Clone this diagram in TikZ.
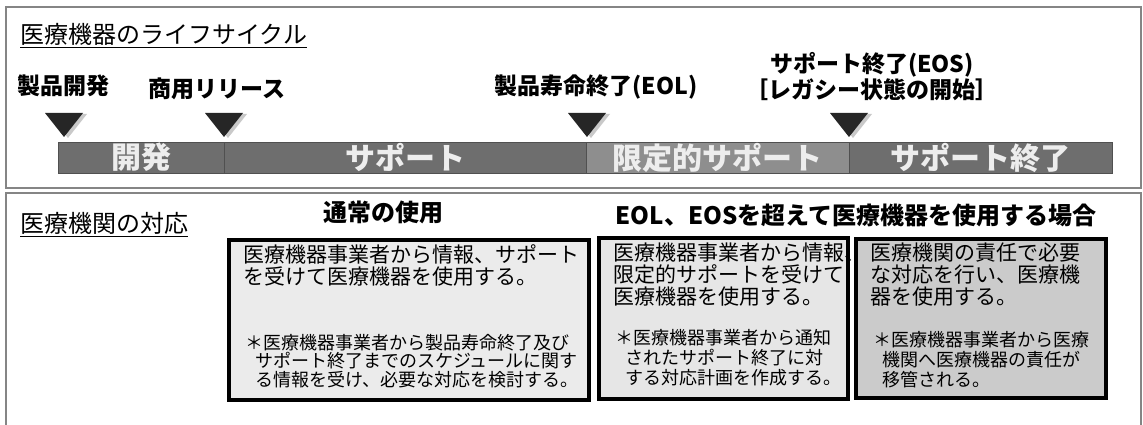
\documentclass[tikz,border=0pt]{standalone}
\usepackage{fontspec}
\setmainfont{Noto Sans CJK JP}
\definecolor{panelgray}{HTML}{858585}
\definecolor{phasedark}{HTML}{6E6E6E}
\definecolor{phaselight}{HTML}{8E8E8E}
\definecolor{phaseline}{HTML}{505050}
\definecolor{phasetext}{HTML}{EDEDED}
\definecolor{fillA}{HTML}{EBEBEB}
\definecolor{fillB}{HTML}{E6E6E6}
\definecolor{fillC}{HTML}{CBCBCB}
\begin{document}
\begin{tikzpicture}[x=1pt,y=-1pt,
  panel/.style={draw=panelgray,line width=2pt},
  head/.style={inner sep=0pt,font=\fontsize{24}{24}\selectfont},
  lbl/.style={inner sep=0pt,font=\fontsize{23}{26}\selectfont\bfseries},
  phase/.style={draw=phaseline,fill=phasedark,text=phasetext,minimum height=31pt,inner sep=0pt,font=\fontsize{30}{30}\selectfont\bfseries},
  usebox/.style={draw=black,line width=3.5pt,inner sep=0pt},
  bodytext/.style={inner sep=0pt,anchor=north west,align=left,font=\fontsize{21}{22}\selectfont},
  notetext/.style={inner sep=0pt,anchor=north west,align=left,font=\fontsize{18}{20}\selectfont}]
\useasboundingbox (0,0) rectangle (1143,425);
\draw[panel] (6,7) rectangle (1141,188);
\draw[panel] (6,425) -- (6,193) -- (1141,193) -- (1141,425);

% life cycle
\node[head,anchor=west] (lifecycle) at (20,34) {医療機器のライフサイクル};
\draw[line width=1pt] ([yshift=-2pt]lifecycle.south west) -- ([yshift=-2pt]lifecycle.south east);

\node[lbl] (lbl-dev) at (63,86) {製品開発};
\node[lbl] (lbl-rel) at (217,89) {商用リリース};
\node[lbl] (lbl-eol) at (596,87) {製品寿命終了(EOL)};
\node[lbl,align=center] (lbl-eos) at (872,77) {サポート終了(EOS)\\［レガシー状態の開始］};

\coordinate (M1) at (64,137);
\coordinate (M2) at (224,137);
\coordinate (M3) at (587,137);
\coordinate (M4) at (849,137);
\fill[gray!60,opacity=.7] ([shift={(4,1)}]M1) -- ++(-19,-24) -- ++(38,0) -- cycle;
\fill[gray!60,opacity=.7] ([shift={(4,1)}]M2) -- ++(-19,-24) -- ++(38,0) -- cycle;
\fill[gray!60,opacity=.7] ([shift={(4,1)}]M3) -- ++(-19,-24) -- ++(38,0) -- cycle;
\fill[gray!60,opacity=.7] ([shift={(4,1)}]M4) -- ++(-19,-24) -- ++(38,0) -- cycle;
\fill[black!85] (M1) -- ++(-19,-24) -- ++(38,0) -- cycle;
\fill[black!85] (M2) -- ++(-19,-24) -- ++(38,0) -- cycle;
\fill[black!85] (M3) -- ++(-19,-24) -- ++(38,0) -- cycle;
\fill[black!85] (M4) -- ++(-19,-24) -- ++(38,0) -- cycle;

\node[phase,minimum width=166pt] (dev) at (141,157.5) {開発};
\node[phase,minimum width=362pt] (support) at (405,157.5) {サポート};
\node[phase,fill=phaselight,minimum width=263pt] (limited) at (717.5,157.5) {限定的サポート};
\node[phase,minimum width=263pt] (ended) at (980.5,157.5) {サポート終了};

% response of medical institutions
\node[head,anchor=west] (response) at (20,223) {医療機関の対応};
\draw[line width=1pt] ([yshift=-2pt]response.south west) -- ([yshift=-2pt]response.south east);
\node[head,font=\fontsize{24}{24}\selectfont\bfseries] (normaluse) at (383,212) {通常の使用};
\node[head,font=\fontsize{24}{24}\selectfont\bfseries] (beyonduse) at (856,215) {EOL、EOSを超えて医療機器を使用する場合};

\node[usebox,fill=fillA,minimum width=360pt,minimum height=160pt] (boxA) at (409,320) {};
\node[usebox,fill=fillB,minimum width=249pt,minimum height=161pt] (boxB) at (723.5,318.5) {};
\node[usebox,fill=fillC,minimum width=250pt,minimum height=159pt] (boxC) at (981,318.5) {};

\node[bodytext] (textA) at (243,244.3) {医療機器事業者から情報、サポート\\を受けて医療機器を使用する。};
\node[notetext,font=\fontsize{18}{18.5}\selectfont] (noteA) at (245,334) {＊医療機器事業者から製品寿命終了及び\\\hspace*{10pt}サポート終了までのスケジュールに関す\\\hspace*{10pt}る情報を受け、必要な対応を検討する。};
\node[bodytext] (textB) at (613,242.3) {医療機器事業者から情報、\\限定的サポートを受けて\\医療機器を使用する。};
\node[notetext] (noteB) at (615,329) {＊医療機器事業者から通知\\\hspace*{10pt}されたサポート終了に対\\\hspace*{10pt}する対応計画を作成する。};
\node[bodytext] (textC) at (870,242.3) {医療機関の責任で必要\\な対応を行い、医療機\\器を使用する。};
\node[notetext] (noteC) at (873,331) {＊医療機器事業者から医療\\\hspace*{9pt}機関へ医療機器の責任が\\\hspace*{9pt}移管される。};
\end{tikzpicture}
\end{document}
